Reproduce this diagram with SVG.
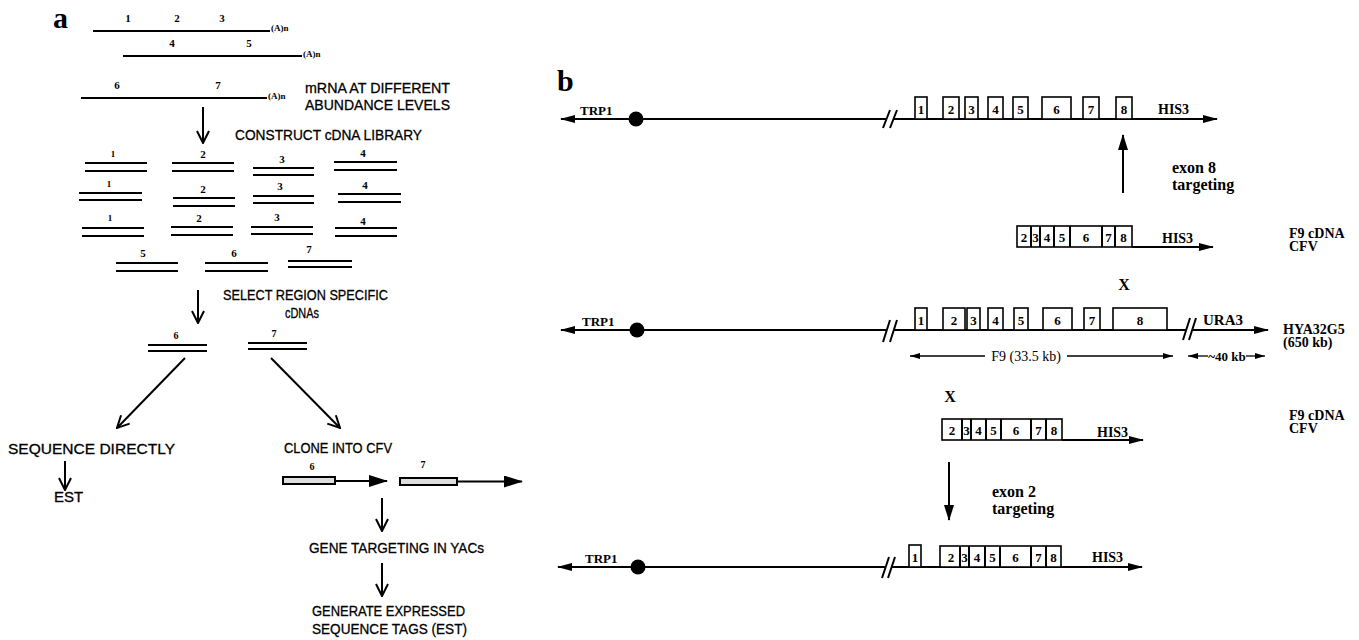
<svg xmlns="http://www.w3.org/2000/svg" width="1359" height="640" viewBox="0 0 1359 640">
<style>
.ln{stroke:#000;stroke-width:2;fill:none}
.dl{stroke:#000;stroke-width:2.2;fill:none}
.bx{fill:#fff;stroke:#000;stroke-width:1.6}
.sa{font-family:"Liberation Sans",Arial,sans-serif;font-size:15px;fill:#000;stroke:#000;stroke-width:0.3}
.nb{font-family:"Liberation Serif","Times New Roman",serif;font-weight:bold;fill:#000}
.big{font-size:30px}
.n11{font-size:11px}
.n13{font-size:13px}
.n14{font-size:14px}
.n16{font-size:16px}
.ex{font-family:"Liberation Serif","Times New Roman",serif;font-weight:bold;font-size:13px;text-anchor:middle}
.mid{text-anchor:middle}
</style>
<defs>
<marker id="vh" viewBox="0 0 14 14" refX="13" refY="7" markerWidth="14" markerHeight="14" markerUnits="userSpaceOnUse" orient="auto"><path d="M1,1 L13,7 L1,13" fill="none" stroke="#000" stroke-width="2"/></marker>
<marker id="fh" viewBox="0 0 15 8" refX="14" refY="4" markerWidth="15" markerHeight="8" markerUnits="userSpaceOnUse" orient="auto-start-reverse"><path d="M0,0 L15,4 L0,8 z" fill="#000"/></marker>
<marker id="fhb" viewBox="0 0 19 12" refX="18" refY="6" markerWidth="19" markerHeight="12" markerUnits="userSpaceOnUse" orient="auto"><path d="M0,0 L19,6 L0,12 z" fill="#000"/></marker>
<marker id="fhs" viewBox="0 0 10 6" refX="10" refY="3" markerWidth="10" markerHeight="6" markerUnits="userSpaceOnUse" orient="auto-start-reverse"><path d="M0,0 L10,3 L0,6 z" fill="#000"/></marker>
<marker id="up" viewBox="0 0 16 10" refX="15" refY="5" markerWidth="16" markerHeight="10" markerUnits="userSpaceOnUse" orient="auto"><path d="M0,0 L16,5 L0,10 z" fill="#000"/></marker>
</defs>
<rect width="1359" height="640" fill="#fff"/>

<!-- Panel a -->
<g id="label-a"><text class="nb big" x="53" y="28">a</text></g>

<g id="mrna">
<line class="ln" x1="93" y1="31" x2="270" y2="31"/>
<text class="nb n11 mid" x="128" y="22">1</text><text class="nb n11 mid" x="177" y="22">2</text><text class="nb n11 mid" x="222" y="22">3</text>
<text class="nb" font-size="9" x="271" y="31">(A)n</text>
<line class="ln" x1="123" y1="56" x2="302" y2="56"/>
<text class="nb n11 mid" x="172" y="47">4</text><text class="nb n11 mid" x="249" y="47">5</text>
<text class="nb" font-size="9" x="303" y="57">(A)n</text>
<line class="ln" x1="81" y1="98" x2="267" y2="98"/>
<text class="nb n11 mid" x="117" y="89">6</text><text class="nb n11 mid" x="218" y="89">7</text>
<text class="nb" font-size="9" x="268" y="99">(A)n</text>
</g>
<g id="lbl-mrna"><text class="sa" x="305" y="93" textLength="145" lengthAdjust="spacingAndGlyphs">mRNA AT DIFFERENT</text><text class="sa" x="305" y="110" textLength="145" lengthAdjust="spacingAndGlyphs">ABUNDANCE LEVELS</text></g>
<g id="lbl-construct"><text class="sa" x="235" y="140" textLength="187" lengthAdjust="spacingAndGlyphs">CONSTRUCT cDNA LIBRARY</text></g>

<g id="cdna-library">
<path class="dl" d="M85,163H147M85,171H147M172,163H234M172,171H234M253,168H314M253,175H314M334,162H397M334,170H397"/>
<path class="dl" d="M79,193H142M79,200H142M173,198H235M173,206H235M253,196H314M253,203H314M338,194H401M338,202H401"/>
<path class="dl" d="M82,228H144M82,236H144M171,227H233M171,235H233M251,227H313M251,234H313M335,228H397M335,236H397"/>
<path class="dl" d="M116,263H178M116,271H178M205,263H268M205,271H268M288,261H352M288,267H352"/>
<text class="nb mid" font-size="9" x="113" y="157">1</text><text class="nb n11 mid" x="203" y="158">2</text><text class="nb n11 mid" x="282" y="163">3</text><text class="nb n11 mid" x="363" y="157">4</text>
<text class="nb mid" font-size="9" x="109" y="187">1</text><text class="nb n11 mid" x="203" y="193">2</text><text class="nb n11 mid" x="280" y="190">3</text><text class="nb n11 mid" x="365" y="189">4</text>
<text class="nb mid" font-size="9" x="110" y="221">1</text><text class="nb n11 mid" x="199" y="222">2</text><text class="nb n11 mid" x="277" y="221">3</text><text class="nb n11 mid" x="363" y="225">4</text>
<text class="nb n11 mid" x="143" y="257">5</text><text class="nb n11 mid" x="234" y="257">6</text><text class="nb n11 mid" x="309" y="253">7</text>
</g>
<g id="lbl-select"><text class="sa" x="223" y="300" textLength="165" lengthAdjust="spacingAndGlyphs">SELECT REGION SPECIFIC</text><text class="sa" x="285" y="318" textLength="34" lengthAdjust="spacingAndGlyphs">cDNAs</text></g>
<g id="selected">
<path class="dl" d="M148,345H207M148,351H207M248,343H307M248,349H307"/>
<text class="nb mid" font-size="10" x="176" y="339">6</text><text class="nb mid" font-size="10" x="274" y="337">7</text>
</g>
<g id="lbl-seq"><text class="sa" x="8" y="454" textLength="167" lengthAdjust="spacingAndGlyphs">SEQUENCE DIRECTLY</text></g>
<g id="lbl-est"><text class="sa" font-size="12" x="54" y="502">EST</text></g>
<g id="lbl-clone"><text class="sa" x="284" y="453" textLength="108" lengthAdjust="spacingAndGlyphs">CLONE INTO CFV</text></g>
<g id="cfv-constructs">
<rect x="283" y="477" width="52" height="7" fill="#ddd" stroke="#000" stroke-width="2"/>
<rect x="400" y="478" width="57" height="7" fill="#ddd" stroke="#000" stroke-width="2"/>
<text class="nb mid" font-size="10" x="312" y="470">6</text><text class="nb mid" font-size="10" x="423" y="468">7</text>
<line class="ln" x1="335" y1="481" x2="387" y2="481" marker-end="url(#fhb)"/>
<line class="ln" x1="457" y1="481.5" x2="522" y2="481.5" marker-end="url(#fhb)"/>
</g>
<g id="lbl-gene"><text class="sa" x="309" y="553" textLength="175" lengthAdjust="spacingAndGlyphs">GENE TARGETING IN YACs</text></g>
<g id="lbl-generate"><text class="sa" x="312" y="616" textLength="153" lengthAdjust="spacingAndGlyphs">GENERATE EXPRESSED</text><text class="sa" x="312" y="634" textLength="155" lengthAdjust="spacingAndGlyphs">SEQUENCE TAGS (EST)</text></g>

<!-- Panel b -->
<g id="label-b"><text class="nb big" x="557" y="91">b</text></g>

<g id="chrom-1">
<line class="ln" x1="561" y1="119" x2="886" y2="119" marker-start="url(#fh)"/>
<line class="ln" x1="894" y1="119" x2="1217" y2="119" marker-end="url(#fh)"/>
<path class="ln" d="M883,128L890,110M890,128L897,110"/>
<circle cx="636" cy="119" r="7.5" fill="#000"/>
<text class="nb n13" x="580" y="115">TRP1</text>
<rect class="bx" x="915" y="97" width="12" height="22"/><rect class="bx" x="943" y="97" width="16" height="22"/><rect class="bx" x="965" y="97" width="13" height="22"/><rect class="bx" x="988" y="97" width="15" height="22"/><rect class="bx" x="1013" y="97" width="15" height="22"/><rect class="bx" x="1042" y="97" width="29" height="22"/><rect class="bx" x="1083" y="97" width="16" height="22"/><rect class="bx" x="1116" y="97" width="16" height="22"/>
<text class="ex" x="921" y="114">1</text><text class="ex" x="951" y="114">2</text><text class="ex" x="971.5" y="114">3</text><text class="ex" x="995.5" y="114">4</text><text class="ex" x="1020.5" y="114">5</text><text class="ex" x="1056.5" y="114">6</text><text class="ex" x="1091" y="114">7</text><text class="ex" x="1124" y="114">8</text>
<text class="nb n14" x="1158" y="114">HIS3</text>
</g>

<g id="lbl-exon8"><text class="nb n16" x="1172" y="173">exon 8</text><text class="nb n16" x="1172" y="190">targeting</text></g>

<g id="cfv-1">
<rect class="bx" x="1017" y="226" width="115" height="21"/>
<path class="ln" stroke-width="1.6" d="M1031,226V247M1040,226V247M1054,226V247M1070,226V247M1102,226V247M1115,226V247"/>
<line class="ln" x1="1132" y1="247" x2="1213" y2="247" marker-end="url(#fh)"/>
<text class="ex" x="1024" y="242">2</text><text class="ex" x="1035.5" y="242">3</text><text class="ex" x="1047" y="242">4</text><text class="ex" x="1062" y="242">5</text><text class="ex" x="1086" y="242">6</text><text class="ex" x="1108.5" y="242">7</text><text class="ex" x="1123.5" y="242">8</text>
<text class="nb n14" x="1162" y="243">HIS3</text>
<text class="nb n14" x="1289" y="238">F9 cDNA</text><text class="nb n14" x="1289" y="251">CFV</text>
</g>
<g id="x-1"><text class="nb n16 mid" x="1124" y="290">X</text></g>

<g id="chrom-yac">
<line class="ln" x1="561" y1="330" x2="886" y2="330" marker-start="url(#fh)"/>
<line class="ln" x1="894" y1="330" x2="1186" y2="330"/>
<line class="ln" x1="1193" y1="330" x2="1268" y2="330" marker-end="url(#fh)"/>
<path class="ln" d="M883,342L890,320M890,342L897,320M1183,340L1190,318M1189,340L1196,318"/>
<circle cx="637" cy="330" r="7.5" fill="#000"/>
<text class="nb n13" x="582" y="326">TRP1</text>
<rect class="bx" x="915" y="308" width="12" height="22"/><rect class="bx" x="943" y="308" width="22" height="22"/><rect class="bx" x="967" y="308" width="13" height="22"/><rect class="bx" x="988" y="308" width="15" height="22"/><rect class="bx" x="1014" y="308" width="14" height="22"/><rect class="bx" x="1043" y="308" width="29" height="22"/><rect class="bx" x="1084" y="308" width="16" height="22"/><rect class="bx" x="1113" y="308" width="54" height="22"/>
<text class="ex" x="921" y="325">1</text><text class="ex" x="954" y="325">2</text><text class="ex" x="973.5" y="325">3</text><text class="ex" x="995.5" y="325">4</text><text class="ex" x="1021" y="325">5</text><text class="ex" x="1057.5" y="325">6</text><text class="ex" x="1092" y="325">7</text><text class="ex" x="1140" y="325">8</text>
<text class="nb" font-size="15" x="1203" y="325">URA3</text>
<text class="nb n14" x="1283" y="334">HYA32G5</text><text class="nb n14" x="1283" y="347">(650 kb)</text>
<line x1="910" y1="356" x2="985" y2="356" stroke="#000" stroke-width="1.3" marker-start="url(#fhs)"/>
<text font-family="Liberation Serif,serif" font-size="14" class="mid" x="1026" y="361">F9 (33.5 kb)</text>
<line x1="1067" y1="356" x2="1173" y2="356" stroke="#000" stroke-width="1.3" marker-end="url(#fhs)"/>
<line x1="1188" y1="356" x2="1208" y2="356" stroke="#000" stroke-width="1.3" marker-start="url(#fhs)"/>
<text font-family="Liberation Serif,serif" font-size="13" font-weight="bold" class="mid" x="1227" y="361">~40 kb</text>
<line x1="1246" y1="356" x2="1265" y2="356" stroke="#000" stroke-width="1.3" marker-end="url(#fhs)"/>
</g>

<g id="x-2"><text class="nb n16 mid" x="950" y="402">X</text></g>

<g id="cfv-2">
<rect class="bx" x="942" y="419" width="120" height="21"/>
<path class="ln" stroke-width="1.6" d="M962,419V440M971,419V440M986,419V440M1001,419V440M1031,419V440M1046,419V440"/>
<line class="ln" x1="1062" y1="440" x2="1143" y2="440" marker-end="url(#fh)"/>
<text class="ex" x="952" y="435">2</text><text class="ex" x="966.5" y="435">3</text><text class="ex" x="978.5" y="435">4</text><text class="ex" x="993.5" y="435">5</text><text class="ex" x="1016" y="435">6</text><text class="ex" x="1038.5" y="435">7</text><text class="ex" x="1054" y="435">8</text>
<text class="nb n14" x="1097" y="437">HIS3</text>
<text class="nb n14" x="1289" y="420">F9 cDNA</text><text class="nb n14" x="1289" y="433">CFV</text>
</g>

<g id="lbl-exon2"><text class="nb n16" x="992" y="497">exon 2</text><text class="nb n16" x="992" y="514">targeting</text></g>

<g id="chrom-3">
<line class="ln" x1="558" y1="567" x2="885" y2="567" marker-start="url(#fh)"/>
<line class="ln" x1="892" y1="567" x2="1142" y2="567" marker-end="url(#fh)"/>
<path class="ln" d="M882,578L889,557M888,578L895,557"/>
<circle cx="638" cy="567" r="7.5" fill="#000"/>
<text class="nb n13" x="585" y="563">TRP1</text>
<rect class="bx" x="909" y="545" width="12" height="22"/>
<rect class="bx" x="940" y="546" width="121" height="21"/>
<path class="ln" stroke-width="1.6" d="M960,546V567M969,546V567M985,546V567M1000,546V567M1031,546V567M1046,546V567"/>
<text class="ex" x="915" y="562">1</text><text class="ex" x="951" y="562">2</text><text class="ex" x="964.5" y="562">3</text><text class="ex" x="977" y="562">4</text><text class="ex" x="992.5" y="562">5</text><text class="ex" x="1015.5" y="562">6</text><text class="ex" x="1038.5" y="562">7</text><text class="ex" x="1053.5" y="562">8</text>
<text class="nb n14" x="1092" y="562">HIS3</text>
</g>

<g id="connectors">
<line class="ln" x1="203" y1="107" x2="203" y2="143" marker-end="url(#vh)"/>
<line class="ln" x1="198" y1="290" x2="198" y2="323" marker-end="url(#vh)"/>
<line class="ln" x1="185" y1="358" x2="117" y2="428" marker-end="url(#vh)"/>
<line class="ln" x1="271" y1="358" x2="340" y2="428" marker-end="url(#vh)"/>
<line class="ln" x1="65" y1="461" x2="65" y2="490" marker-end="url(#vh)"/>
<line class="ln" x1="382" y1="498" x2="382" y2="531" marker-end="url(#vh)"/>
<line class="ln" x1="382" y1="563" x2="382" y2="596" marker-end="url(#vh)"/>
<line class="ln" x1="1123" y1="193" x2="1123" y2="135" marker-end="url(#up)"/>
<line class="ln" x1="949" y1="462" x2="949" y2="520" marker-end="url(#up)"/>
</g>
</svg>
